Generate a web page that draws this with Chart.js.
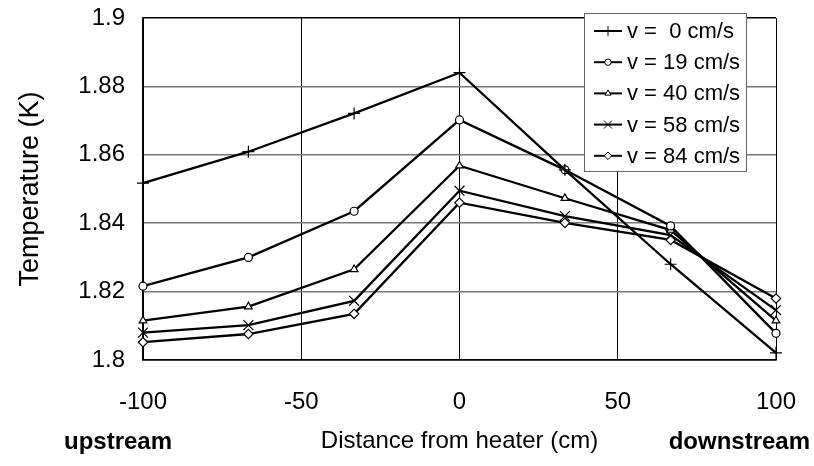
<!DOCTYPE html>
<html>
<head>
<meta charset="utf-8">
<script src="https://cdn.jsdelivr.net/npm/chart.js@4/dist/chart.umd.min.js"></script>
<style>
  html, body { margin: 0; padding: 0; background: #fff; }
  #wrap { width: 814px; height: 466px; }
</style>
</head>
<body>
<div id="wrap"><canvas id="myChart" width="814" height="466"></canvas></div>
<script>
const positions = [-100, -66.7, -33.3, 0, 33.3, 66.7, 100];

const v0 = [1.8517, 1.8609, 1.8721, 1.8840, 1.8556, 1.8280, 1.8021];
const v19 = [1.8216, 1.8300, 1.8435, 1.8702, 1.8556, 1.8392, 1.8078];
const v40 = [1.8115, 1.8156, 1.8265, 1.8568, 1.8473, 1.8380, 1.8115];
const v58 = [1.8080, 1.8102, 1.8173, 1.8495, 1.8421, 1.8365, 1.8146];
const v84 = [1.8052, 1.8076, 1.8135, 1.8460, 1.8401, 1.8351, 1.8180];

const seriesLabels = ['v =  0 cm/s', 'v = 19 cm/s', 'v = 40 cm/s', 'v = 58 cm/s', 'v = 84 cm/s'];
const seriesValues = [v0, v19, v40, v58, v84];
const markers = ['cross', 'circle', 'triangle', 'crossRot', 'rectRot'];
const markerSizes = [6, 4, 4.4, 7, 4.7];

const FONT = "'Liberation Sans', Arial, sans-serif";

const datasets = seriesValues.map((vals, i) => ({
    label: seriesLabels[i],
    data: positions.map((x, j) => ({ x: x, y: vals[j] })),
    borderColor: '#000',
    borderWidth: 2.3,
    backgroundColor: '#fff',
    pointStyle: markers[i],
    pointRadius: markerSizes[i],
    pointBorderColor: '#000',
    pointBackgroundColor: '#fff',
    pointBorderWidth: 1.2,
    tension: 0,
    clip: false
}));

// legend box sitting over the top-right of the plot
const boxLegend = {
    id: 'boxLegend',
    afterDatasetsDraw(chart) {
        const ctx = chart.ctx;
        const left = 584, top = 13, w = 162, h = 158;
        ctx.save();
        ctx.fillStyle = '#fff';
        ctx.fillRect(left, top, w, h);
        ctx.strokeStyle = '#666';
        ctx.lineWidth = 1;
        ctx.strokeRect(left + 0.5, top + 0.5, w, h);
        chart.data.datasets.forEach((ds, i) => {
            const y = 31 + i * 31.2;
            ctx.strokeStyle = '#000';
            ctx.lineWidth = 2;
            ctx.beginPath();
            ctx.moveTo(594, y);
            ctx.lineTo(622, y);
            ctx.stroke();
            ctx.fillStyle = '#fff';
            ctx.lineWidth = 1;
            Chart.helpers.drawPoint(ctx, {
                pointStyle: ds.pointStyle,
                radius: ds.pointRadius * 0.8,
                rotation: 0,
                borderWidth: 1
            }, 608, y);
            ctx.fillStyle = '#000';
            ctx.font = '22px ' + FONT;
            ctx.textBaseline = 'middle';
            ctx.textAlign = 'left';
            ctx.fillText(ds.label, 627, y + 1);
        });
        ctx.restore();
    },
    afterDraw(chart) {
        const ctx = chart.ctx;
        ctx.save();
        ctx.fillStyle = '#000';
        ctx.font = 'bold 24px ' + FONT;
        ctx.textBaseline = 'middle';
        ctx.textAlign = 'left';
        ctx.fillText('upstream', 64, 442);
        ctx.textAlign = 'right';
        ctx.fillText('downstream', 810, 442);
        ctx.restore();
    }
};

const config = {
    type: 'line',
    data: { datasets: datasets },
    options: {
        responsive: false,
        animation: false,
        events: [],
        plugins: {
            legend: { display: false },
            tooltip: { enabled: false }
        },
        layout: {
            padding: { left: 0, right: 38, top: 18, bottom: 0 }
        },
        scales: {
            x: {
                type: 'linear',
                min: -100,
                max: 100,
                afterFit: (scale) => {
                    scale.height = 106;
                    scale.paddingLeft = 0;
                    scale.paddingRight = 0;
                },
                ticks: {
                    stepSize: 50,
                    color: '#000',
                    padding: 28,
                    font: { family: FONT, size: 24 },
                    maxRotation: 0
                },
                grid: {
                    color: '#000',
                    lineWidth: 1,
                    drawTicks: false
                },
                border: { color: '#000', width: 1.5 },
                title: {
                    display: true,
                    text: 'Distance from heater (cm)',
                    color: '#000',
                    font: { family: FONT, size: 24 },
                    padding: { top: 0, bottom: 10 }
                }
            },
            y: {
                min: 1.8,
                max: 1.9,
                afterFit: (scale) => {
                    scale.width = 143;
                    scale.paddingTop = 0;
                    scale.paddingBottom = 0;
                },
                ticks: {
                    stepSize: 0.02,
                    color: '#000',
                    padding: 18,
                    font: { family: FONT, size: 24 },
                    callback: (v) => String(Number(v.toFixed(2)))
                },
                grid: {
                    color: (c) => (c.tick && (Math.abs(c.tick.value - 1.9) < 1e-6 || Math.abs(c.tick.value - 1.8) < 1e-6)) ? '#000' : '#777',
                    lineWidth: 1.5,
                    drawTicks: false
                },
                border: { color: '#000', width: 1.5 },
                title: {
                    display: true,
                    text: 'Temperature (K)',
                    color: '#000',
                    font: { family: FONT, size: 27 },
                    padding: { top: 14, bottom: 0 }
                }
            }
        }
    },
    plugins: [boxLegend]
};

const myChart = new Chart(
    document.getElementById('myChart'),
    config
);
</script>
</body>
</html>
